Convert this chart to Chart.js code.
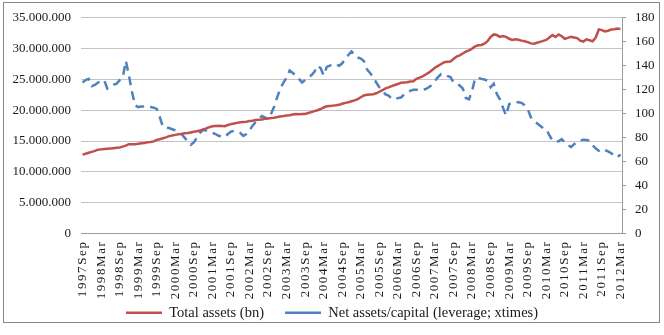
<!DOCTYPE html>
<html>
<head>
<meta charset="utf-8">
<script src="https://cdn.jsdelivr.net/npm/chart.js@4.4.1/dist/chart.umd.min.js"></script>
<style>
html, body { margin: 0; padding: 0; background: #fff; }
#wrap { position: relative; width: 664px; height: 335px; }
#frame { position: absolute; left: 3px; top: 2px; width: 655px; height: 319px; border: 1px solid #878787; pointer-events: none; }
</style>
</head>
<body>
<div id="wrap"><canvas id="chart" width="664" height="335"></canvas><div id="frame"></div></div>
<script>
// monthly, 1997Sep .. 2012Mar
var monthNames = ['Jan','Feb','Mar','Apr','May','Jun','Jul','Aug','Sep','Oct','Nov','Dec'];
var firstYear = 1997, firstMonth = 8, monthCount = 175;

// total assets, millions (left axis)
var totalAssets = [
    12.8, 12.95, 13.1, 13.25, 13.4, 13.6, 13.65, 13.7, 13.75, 13.8, 13.85, 13.9,
    13.95, 14.1, 14.25, 14.5, 14.5, 14.5, 14.55, 14.65, 14.7, 14.8, 14.85, 14.95,
    15.2, 15.3, 15.45, 15.6, 15.8, 15.9, 16.0, 16.1, 16.15, 16.25, 16.3, 16.4,
    16.5, 16.6, 16.7, 16.9, 17.05, 17.25, 17.4, 17.45, 17.5, 17.45, 17.4, 17.6,
    17.75, 17.85, 17.95, 18.05, 18.1, 18.15, 18.25, 18.3, 18.4, 18.45, 18.5, 18.6,
    18.65, 18.75, 18.8, 18.9, 19.0, 19.05, 19.15, 19.2, 19.3, 19.4, 19.35, 19.4,
    19.4, 19.55, 19.7, 19.85, 20.0, 20.2, 20.45, 20.65, 20.7, 20.75, 20.8, 20.9,
    21.05, 21.2, 21.3, 21.45, 21.6, 21.8, 22.1, 22.4, 22.5, 22.55, 22.6, 22.75,
    23.0, 23.25, 23.55, 23.7, 23.9, 24.1, 24.25, 24.45, 24.5, 24.55, 24.65, 24.7,
    25.1, 25.3, 25.5, 25.8, 26.1, 26.5, 26.9, 27.2, 27.5, 27.8, 27.85, 27.9,
    28.3, 28.7, 28.9, 29.2, 29.5, 29.7, 30.0, 30.35, 30.55, 30.6, 30.8, 31.2,
    31.9, 32.3, 32.2, 31.9, 32.05, 31.9, 31.6, 31.4, 31.5, 31.45, 31.3, 31.2,
    31.05, 30.85, 30.8, 30.95, 31.1, 31.25, 31.4, 31.8, 32.2, 31.9, 32.3, 32.0,
    31.6, 31.75, 31.9, 31.8, 31.7, 31.3, 31.15, 31.5, 31.35, 31.2, 31.8, 33.1,
    33.0, 32.8, 32.9, 33.1, 33.15, 33.25, 33.2
];

// net assets / capital, times (right axis)
var leverage = [
    126, 128, 129, 123, 124, 126, 127, 128, 121, 122, 124, 125,
    128, 130, 144, 132, 118, 107, 105.5, 106, 106, 105.5, 105.5, 105,
    104, 97, 89, 88.5, 88, 87, 86, 85, 83, 80, 77, 74,
    76, 80, 84, 86.5, 86, 85, 84, 83, 81.5, 81, 80.5, 83,
    85, 85.5, 85, 84, 81.5, 83, 86, 90, 93, 95, 98, 97,
    95.5, 100, 106, 114, 121, 126, 130, 136, 134, 132, 129, 126,
    128, 130, 132, 135, 140, 138, 132, 139, 140, 141.5, 141, 140,
    142, 146, 149, 152, 149, 147, 146, 144, 137, 134, 130.5, 126,
    122, 119.5, 116, 115, 112.5, 112, 113, 113.5, 116, 117.5, 119, 120,
    120, 120, 120, 120.5, 122, 124, 127.5, 130.5, 133, 133, 131.5, 130.5,
    126, 125, 123.5, 121, 113, 112, 119, 129.5, 130, 129, 128.5, 127.5,
    122, 125, 116.5, 112, 105, 98.5, 108, 109, 109.5, 109.5, 109, 107,
    104, 97, 94, 92, 90, 88, 87, 82, 77.5, 76.5, 77, 78.8,
    76, 74, 72, 74.5, 76.5, 77.5, 78.3, 78, 77.5, 73.5, 71, 69,
    70.5, 69.5, 68.5, 67, 65, 63.5, 66
];

var labels = [];
for (var i = 0; i < monthCount; i++) {
    var m = firstMonth + i;
    labels.push((firstYear + Math.floor(m / 12)) + monthNames[m % 12]);
}

var serif = { family: 'Liberation Serif', size: 13 };
var legendFont = { family: 'Liberation Serif', size: 14.5 };
var gridGray = '#c4c4c4';
var axisGray = '#9a9a9a';

function dots(n) {
    return n.toString().replace(/\B(?=(\d{3})+(?!\d))/g, '.');
}

// spaced-out category labels like the original, and no clipping to the axis box
var spacedLabels = {
    id: 'spacedLabels',
    afterUpdate: function(chart) {
        var xs = chart.scales.x;
        if (!xs || xs._spaced) return;
        var orig = xs.drawLabels;
        xs._computeLabelArea = function() { return undefined; };
        xs.drawLabels = function(area) {
            this.ctx.save();
            this.ctx.letterSpacing = '1.6px';
            orig.call(this, area);
            this.ctx.restore();
        };
        xs._spaced = true;
    }
};

var ctx = document.getElementById('chart');
var chart = new Chart(ctx, {
    type: 'line',
    data: {
        labels: labels,
        datasets: [{
            label: 'Total assets (bn)',
            data: totalAssets.map(function(v) { return v * 1000000; }),
            borderColor: '#c0504d',
            backgroundColor: '#c0504d',
            borderWidth: 2.5,
            pointRadius: 0,
            yAxisID: 'y'
        }, {
            label: 'Net assets/capital (leverage; xtimes)',
            data: leverage,
            borderColor: '#4f81bd',
            backgroundColor: '#4f81bd',
            borderWidth: 2.5,
            borderDash: [9, 6],
            pointRadius: 0,
            yAxisID: 'y2'
        }]
    },
    options: {
        responsive: false,
        animation: false,
        devicePixelRatio: 1,
        layout: { padding: { top: 16, left: 0, right: 0, bottom: 5 } },
        plugins: {
            legend: {
                position: 'bottom',
                labels: {
                    usePointStyle: true,
                    pointStyle: 'line',
                    pointStyleWidth: 36,
                    padding: 21,
                    color: '#1a1a1a',
                    font: legendFont
                }
            },
            tooltip: { enabled: false }
        },
        scales: {
            x: {
                offset: true,
                grid: { display: false, drawTicks: false },
                border: { display: true, color: axisGray },
                ticks: {
                    autoSkip: false,
                    minRotation: 90,
                    maxRotation: 90,
                    padding: 7,
                    color: '#1a1a1a',
                    font: serif,
                    callback: function(val, i) { return i % 6 === 0 ? this.getLabelForValue(val) : ''; }
                },
                afterFit: function(scale) { scale.height = 51; }
            },
            y: {
                position: 'left',
                min: 0,
                max: 35000000,
                grid: { color: gridGray, drawTicks: false },
                border: { display: false },
                ticks: {
                    stepSize: 5000000,
                    padding: 10,
                    color: '#1a1a1a',
                    font: serif,
                    callback: function(v) { return dots(v); }
                },
                afterFit: function(scale) { scale.width = 81; }
            },
            y2: {
                position: 'right',
                min: 0,
                max: 180,
                grid: { drawOnChartArea: false, color: axisGray, tickLength: 4 },
                border: { display: true, color: axisGray },
                ticks: {
                    stepSize: 20,
                    padding: 9,
                    color: '#1a1a1a',
                    font: serif
                },
                afterFit: function(scale) { scale.width = 42; }
            }
        }
    },
    plugins: [spacedLabels]
});
</script>
</body>
</html>
